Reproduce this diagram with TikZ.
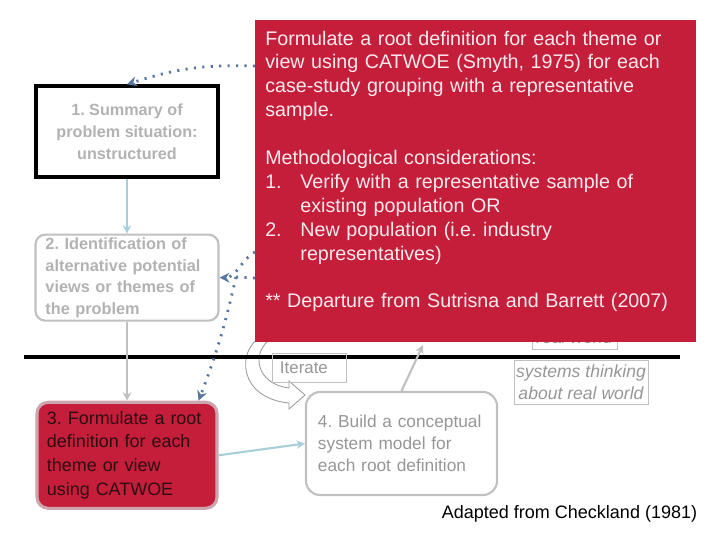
\documentclass[tikz,border=0pt]{standalone}
\usepackage{fontspec}
\setmainfont{Liberation Sans}
\usetikzlibrary{positioning, arrows.meta, calc, backgrounds}
\frenchspacing

\definecolor{notered}{RGB}{196,30,58}
\definecolor{notetext}{RGB}{250,234,238}
\definecolor{stagegray}{RGB}{192,192,192}
\definecolor{fadedtext}{RGB}{178,178,178}
\definecolor{modeltext}{RGB}{150,150,150}
\definecolor{linkblue}{RGB}{168,206,218}
\definecolor{dotblue}{RGB}{88,118,158}
\definecolor{rootborder}{RGB}{205,165,172}
\definecolor{roottext}{RGB}{45,12,18}

\begin{document}
\begin{tikzpicture}[
    x=0.025cm, y=-0.025cm,
    every node/.style={inner sep=0pt},
    % Box styles
    plainbox/.style={rectangle, draw=black, line width=2.2pt, minimum width=4.55cm, minimum height=2.275cm, align=center, text=fadedtext, font=\fontsize{11.5}{15.6}\selectfont\bfseries},
    stagebox/.style={rectangle, rounded corners=7pt, draw=stagegray, line width=1.5pt, align=left, inner xsep=0.25cm, text=fadedtext, font=\fontsize{11.6}{15.4}\selectfont\bfseries},
    rootbox/.style={rectangle, rounded corners=8pt, draw=rootborder, fill=notered, line width=2.2pt, align=left, inner xsep=0.25cm, text=roottext, font=\fontsize{12.75}{17}\selectfont},
    modelbox/.style={rectangle, rounded corners=10pt, draw=stagegray, line width=1.5pt, align=left, inner xsep=0.3cm, text=modeltext, font=\fontsize{12.3}{15.6}\selectfont},
    tagbox/.style={rectangle, draw=stagegray, line width=0.6pt, text=modeltext, font=\fontsize{12}{15.6}\selectfont},
    notebox/.style={rectangle, fill=notered, text=notetext, align=left, inner xsep=0.25cm, inner ysep=6pt, text width=10.525cm, minimum height=8.05cm, font=\fontsize{14}{17}\selectfont},
    % Connector styles
    bluelink/.style={draw=linkblue, line width=1.5pt, -{Stealth[length=6pt, width=6pt]}},
    graylink/.style={draw=stagegray, line width=1.5pt, -{Stealth[length=6pt, width=6pt]}},
    dotline/.style={draw=dotblue, line width=2pt, dash pattern=on 1.5pt off 4.5pt},
    dotlink/.style={dotline, -{Stealth[length=7pt, width=7pt]}}
]
\useasboundingbox (0,0) rectangle (720,540);

% Divider between real world and systems thinking
\coordinate (divleft) at (24,357);
\coordinate (divright) at (680,357);
\draw [line width=2.8pt] (divleft) -- (divright);

% Stages
\node (summary) [plainbox] at (127,131.5) {1. Summary of\\problem situation:\\unstructured};
\node (views) [stagebox, text width=4.075cm, minimum height=2.15cm, below=1.375cm of summary] {2. Identification of\\alternative potential\\views or themes of\\the problem};
\node (rootdef) [rootbox, text width=4.0cm, minimum height=2.65cm, below=1.975cm of views] {3. Formulate a root\\definition for each\\theme or view\\using CATWOE};
\node (model) [modelbox, text width=4.175cm, minimum height=2.575cm] at (401.5,443.5) {4. Build a conceptual\\system model for\\each root definition};

% Labels
\node (iterate) [tagbox, text width=1.45cm, inner xsep=0.2cm, minimum height=0.725cm, align=left] at (309,367.5) {Iterate};
\node (thinking) [tagbox, align=center, minimum width=3.35cm, minimum height=1.1cm, font=\fontsize{12.5}{15.6}\selectfont\itshape] at (581,382) {systems thinking\\about real world};
\node (credit) [font=\fontsize{12.8}{15}\selectfont] at (569.5,514) {Adapted from Checkland (1981)};

% Note on step 3
\node (note) [notebox, anchor=north west] at (255,20) {Formulate a root definition for each theme or\\
view using CATWOE (Smyth, 1975) for each\\
case-study grouping with a representative\\
sample.\\[17pt]
Methodological considerations:\\
\makebox[25pt][l]{1.}Verify with a representative sample of\\
\hspace*{25pt}existing population OR\\
\makebox[25pt][l]{2.}New population (i.e. industry\\
\hspace*{25pt}representatives)\\[17pt]
** Departure from Sutrisna and Barrett (2007)\\
\mbox{}};

% Behind the note
\begin{scope}[on background layer]
  \node (world) [tagbox, minimum width=2.125cm, minimum height=0.575cm, font=\fontsize{12.5}{15}\selectfont\itshape] at (574.5,337.5) {real world};
  % Iterate loop arrow
  \draw [stagegray!80!black, line width=0.6pt] (262,336) .. controls (236,350) and (238,398) .. (289,403) -- (289,409) -- (305,395) -- (289,381) -- (289,388) .. controls (256,384) and (250,352) .. (272,338);
\end{scope}

% Main flow
\draw [bluelink] (summary) -- (views);
\draw [graylink] (views) -- (rootdef);
\draw [bluelink] (rootdef.east) -- (model.west);
\coordinate (worldlink) at (423,345);
\draw [graylink] (model.north) -- (worldlink);

% Feedback from the note (dotted)
\coordinate (noteup) at ($(note.north west)+(0,46)$);
\coordinate (notelowA) at ($(note.north west)+(0,232)$);
\coordinate (notelowB) at ($(note.north west)+(0,258)$);
\coordinate (merge) at (236,277);
\draw [dotlink] (noteup) to[bend right=10] (summary.north);
\draw [dotlink] (notelowA) to[out=210, in=0] (views.east);
\draw [dotline] (notelowB) -- (merge);
\draw [dotlink] (merge) to[bend left=4] ([xshift=-0.5cm]rootdef.north east);

\end{tikzpicture}
\end{document}
